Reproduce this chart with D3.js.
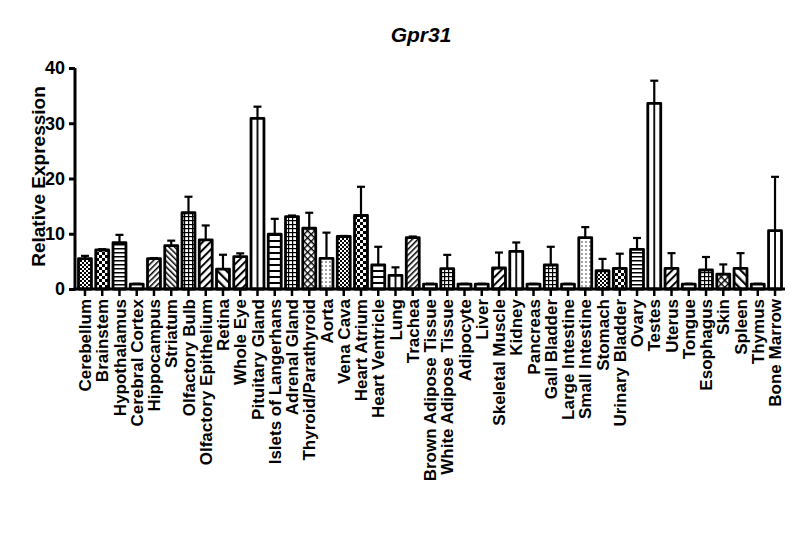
<!DOCTYPE html>
<html>
<head>
<meta charset="utf-8">
<script src="https://cdn.jsdelivr.net/npm/d3@7"></script>
<style>
  body { margin: 0; background: #fff; }
  text { font-family: "Liberation Sans", Arial, sans-serif; font-weight: bold; }
</style>
</head>
<body>
<div id="chart"></div>
<script>
// tissues along the x axis
const tissues = ["Cerebellum", "Brainstem", "Hypothalamus", "Cerebral Cortex", "Hippocampus",
  "Striatum", "Olfactory Bulb", "Olfactory Epithelium", "Retina", "Whole Eye",
  "Pituitary Gland", "Islets of Langerhans", "Adrenal Gland", "Thyroid/Parathyroid", "Aorta",
  "Vena Cava", "Heart Atrium", "Heart Ventricle", "Lung", "Trachea",
  "Brown Adipose Tissue", "White Adipose Tissue", "Adipocyte", "Liver", "Skeletal Muscle",
  "Kidney", "Pancreas", "Gall Bladder", "Large Intestine", "Small Intestine",
  "Stomach", "Urinary Bladder", "Ovary", "Testes", "Uterus",
  "Tongue", "Esophagus", "Skin", "Spleen", "Thymus", "Bone Marrow"];

// mean relative expression
const expression = [5.5, 7.06, 8.4, 0.9, 5.5,
  7.85, 13.8, 8.9, 3.6, 5.85,
  30.9, 9.95, 13.1, 11.0, 5.55,
  9.5, 13.3, 4.34, 2.47, 9.3,
  0.9, 3.68, 0.9, 0.9, 3.8,
  6.82, 0.9, 4.34, 0.9, 9.3,
  3.3, 3.74, 7.18, 33.6, 3.74,
  0.9, 3.44, 2.7, 3.74, 0.9, 10.55];

// error (SEM), drawn upward only
const sem = [0.5, 0.15, 1.4, 0.05, 0.1,
  0.9, 2.9, 2.6, 2.6, 0.6,
  2.1, 2.75, 0.2, 2.8, 4.65,
  0.1, 5.2, 3.3, 1.45, 0.2,
  0.05, 2.5, 0.05, 0.05, 2.8,
  1.6, 0.05, 3.3, 0.05, 1.9,
  2.15, 2.65, 2.05, 4.1, 2.75,
  0.05, 2.35, 1.75, 2.75, 0.05, 9.75];

const yTicks = [0, 10, 20, 30, 40];

// fill pattern used for each bar (style only)
const fills = ["fineCheck", "check", "hlines", "none", "diagF",
  "diagB", "grid", "diagFW", "diagBW", "diagFW",
  "vlines", "hlinesW", "grid", "diamond", "dots",
  "fineCheck", "check", "hlinesW", "vlines", "diagF",
  "none", "grid", "none", "none", "diagFW",
  "vlines", "none", "grid", "none", "dots",
  "fineCheck", "check", "hlines", "vlines", "diagFW",
  "none", "grid", "diamond", "diagBW", "none", "vlines"];

const data = tissues.map((t, i) => ({ tissue: t, value: expression[i], err: sem[i], fill: fills[i] }));

const width = 800, height = 534;
const svg = d3.select("#chart").append("svg")
  .attr("width", width)
  .attr("height", height);

const x = d3.scaleBand()
  .domain(tissues)
  .range([76, 784])
  .paddingInner(0.25)
  .paddingOuter(0.145);

const y = d3.scaleLinear()
  .domain([0, 40])
  .range([289, 68]);

// patterns
const defs = svg.append("defs");
const pat = (id, w, h, extra) => {
  const p = defs.append("pattern").attr("id", id)
    .attr("patternUnits", "userSpaceOnUse")
    .attr("width", w).attr("height", h);
  if (extra) extra(p);
  p.append("rect").attr("width", w).attr("height", h).attr("fill", "#fff");
  return p;
};

pat("fineCheck", 4, 4).call(p => {
  p.append("rect").attr("width", 2).attr("height", 2);
  p.append("rect").attr("x", 2).attr("y", 2).attr("width", 2).attr("height", 2);
});
pat("check", 6, 6).call(p => {
  p.append("rect").attr("width", 3).attr("height", 3);
  p.append("rect").attr("x", 3).attr("y", 3).attr("width", 3).attr("height", 3);
});
pat("hlines", 4, 4).call(p => p.append("rect").attr("width", 4).attr("height", 1.5));
pat("hlinesW", 6, 6).call(p => p.append("rect").attr("width", 6).attr("height", 2));
pat("grid", 4, 4).call(p => {
  p.append("rect").attr("width", 4).attr("height", 1.2);
  p.append("rect").attr("width", 1.2).attr("height", 4);
});
const step = x.step();
pat("vlines", step, 4, p => p.attr("x", x(tissues[0]) + x.bandwidth() / 2 - step / 2))
  .call(p => p.append("rect").attr("x", step / 2 - 0.9).attr("width", 1.8).attr("height", 4));
pat("diagF", 4, 4, p => p.attr("patternTransform", "rotate(45)"))
  .call(p => p.append("rect").attr("width", 1.5).attr("height", 4));
pat("diagB", 4, 4, p => p.attr("patternTransform", "rotate(-45)"))
  .call(p => p.append("rect").attr("width", 1.5).attr("height", 4));
pat("diagFW", 5.5, 5.5, p => p.attr("patternTransform", "rotate(45)"))
  .call(p => p.append("rect").attr("width", 2).attr("height", 5.5));
pat("diagBW", 6.5, 6.5, p => p.attr("patternTransform", "rotate(-45)"))
  .call(p => p.append("rect").attr("width", 2.2).attr("height", 6.5));
pat("diamond", 5, 5, p => p.attr("patternTransform", "rotate(45)")).call(p => {
  p.append("rect").attr("width", 1.4).attr("height", 5);
  p.append("rect").attr("width", 5).attr("height", 1.4);
});
pat("dots", 4, 4).call(p => p.append("circle").attr("cx", 2).attr("cy", 2).attr("r", 0.7));
pat("none", 4, 4);

// bars
svg.selectAll("rect.bar")
  .data(data)
  .join("rect")
    .attr("class", "bar")
    .attr("x", d => x(d.tissue))
    .attr("y", d => y(d.value))
    .attr("width", x.bandwidth())
    .attr("height", d => y(0) - y(d.value))
    .attr("fill", d => `url(#${d.fill})`)
    .attr("stroke", "#000")
    .attr("stroke-width", 2.8)
    .attr("stroke-linejoin", "round");

// error bars
const err = svg.append("g").attr("stroke", "#000").attr("stroke-width", 2.2);
err.selectAll("line.stem")
  .data(data)
  .join("line")
    .attr("class", "stem")
    .attr("x1", d => x(d.tissue) + x.bandwidth() / 2)
    .attr("x2", d => x(d.tissue) + x.bandwidth() / 2)
    .attr("y1", d => y(d.value))
    .attr("y2", d => y(d.value + d.err));
err.selectAll("line.cap")
  .data(data)
  .join("line")
    .attr("class", "cap")
    .attr("x1", d => x(d.tissue) + x.bandwidth() / 2 - 4)
    .attr("x2", d => x(d.tissue) + x.bandwidth() / 2 + 4)
    .attr("y1", d => y(d.value + d.err))
    .attr("y2", d => y(d.value + d.err));

// axes
const yAxis = svg.append("g")
  .attr("transform", "translate(75,0)")
  .call(d3.axisLeft(y).tickValues(yTicks).tickSize(6).tickSizeOuter(0).tickPadding(4));
yAxis.selectAll("path, line").attr("stroke", "#000").attr("stroke-width", 3);
yAxis.select(".domain").attr("d", `M0,${y(40)}V${y(0) + 1.5}`);
yAxis.selectAll("text").attr("font-size", 18).attr("fill", "#000")
  .attr("font-family", "'Liberation Sans', Arial, sans-serif").attr("font-weight", "bold");

const xAxis = svg.append("g")
  .attr("transform", `translate(0,${y(0)})`)
  .call(d3.axisBottom(x).tickSize(7).tickSizeOuter(0).tickPadding(2));
xAxis.select(".domain").attr("stroke", "#000").attr("stroke-width", 3)
  .attr("d", "M73.5,0H785");
xAxis.selectAll(".tick line").attr("stroke", "#000").attr("stroke-width", 2.5);
xAxis.selectAll("text")
  .attr("font-size", 17).attr("fill", "#000")
  .attr("font-family", "'Liberation Sans', Arial, sans-serif").attr("font-weight", "bold")
  .attr("text-anchor", "end")
  .attr("transform", "rotate(-90)")
  .attr("x", -10).attr("y", 0).attr("dy", "0.36em");

// axis title
svg.append("text")
  .attr("transform", `translate(38,${(y(0) + y(40)) / 2 - 2}) rotate(-90)`)
  .attr("text-anchor", "middle")
  .attr("dy", "0.35em")
  .attr("font-size", 19)
  .text("Relative Expression");

// chart title
svg.append("text")
  .attr("x", 421)
  .attr("y", 42)
  .attr("text-anchor", "middle")
  .attr("font-size", 21)
  .attr("font-style", "italic")
  .text("Gpr31");
</script>
</body>
</html>
